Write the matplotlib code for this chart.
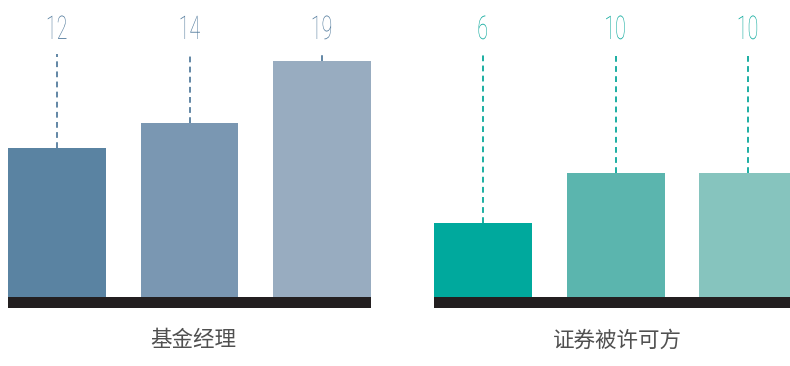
import matplotlib
matplotlib.use("Agg")
import matplotlib.pyplot as plt
from matplotlib.transforms import Affine2D
from matplotlib import patheffects

# ---- data ----
group_names = ["基金经理", "证券被许可方"]
left_values = [12, 14, 19]
right_values = [6, 10, 10]
left_colors = ["#5a83a2", "#7a97b2", "#98acc0"]
right_colors = ["#00a99d", "#5bb5ae", "#86c4be"]
left_label_color = "#557d9e"
right_label_color = "#0aa89b"

W, H = 790, 366
fig = plt.figure(figsize=(W / 100, H / 100), dpi=100)

px_per_unit = 12.4
base_px = 297          # baseline, from top
bottom_px = 308        # bottom of black bar, from top
label_base_px = 39     # number labels baseline, from top
dash_top_px = 54


class Condense(patheffects.AbstractPathEffect):
    """Horizontally condense a text path around its own centre."""
    def __init__(self, sx=0.55):
        super().__init__()
        self.sx = sx

    def draw_path(self, renderer, gc, tpath, affine, rgbFace=None):
        v = tpath.vertices
        cx = (v[:, 0].min() + v[:, 0].max()) / 2.0 if len(v) else 0.0
        aff = Affine2D().translate(-cx, 0).scale(self.sx, 1).translate(cx, 0) + affine
        renderer.draw_path(gc, tpath, aff, rgbFace)


def make_group(left_px, values, colors, label_color, name, name_center_px):
    unit = 132.5
    width_px = 363
    ax = fig.add_axes([left_px / W, (H - bottom_px) / H, width_px / W, bottom_px / H])
    y_low = -(bottom_px - base_px) / px_per_unit
    y_high = base_px / px_per_unit
    x0 = -(57 - 8) / unit
    ax.set_xlim(x0, x0 + width_px / unit)
    ax.set_ylim(y_low, y_high)
    ax.axis("off")
    xs = list(range(len(values)))
    ax.bar(xs, values, width=98 / unit, color=colors, linewidth=0)
    ax.axhspan(y_low, 0, color="#231f20", linewidth=0)
    y_label = (base_px - label_base_px) / px_per_unit
    y_dash = (base_px - dash_top_px) / px_per_unit
    for x, v in zip(xs, values):
        ax.plot([x, x], [v, y_dash], color=label_color, lw=1.3,
                linestyle=(0, (3.2, 2.4)), solid_capstyle="butt")
        ax.text(x, y_label, str(v), ha="center", va="baseline",
                fontsize=23.5, family="Roboto", fontweight="light",
                color=label_color, path_effects=[Condense(0.6)])
    fig.text(name_center_px / W, 1 - 340.5 / H, name, ha="center", va="center",
             fontsize=15.5, family=["Noto Sans CJK SC", "DejaVu Sans"],
             fontweight="light", color="#505050")


make_group(8, left_values, left_colors, left_label_color, group_names[0], 193)
make_group(434, right_values, right_colors, right_label_color, group_names[1], 617)

fig.savefig("out.png", dpi=100)
